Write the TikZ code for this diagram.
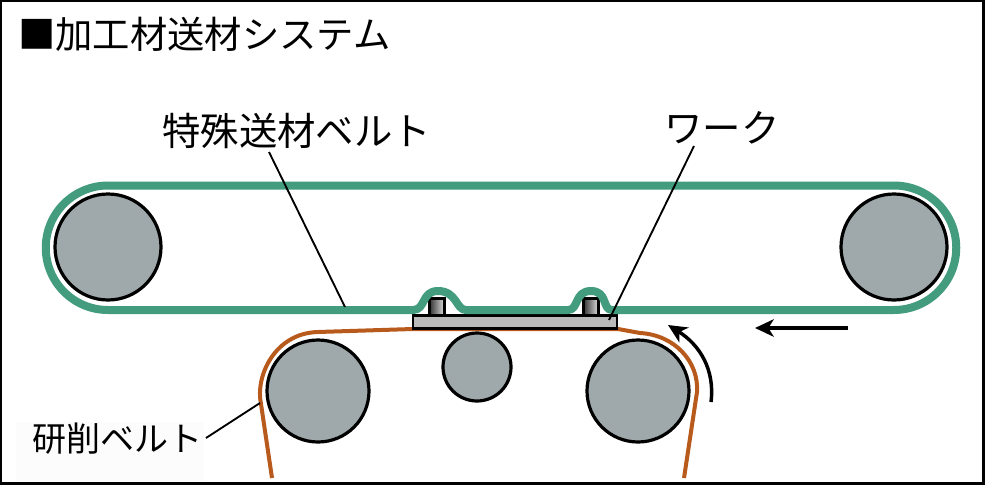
\documentclass[tikz,border=0pt]{standalone}
\usepackage{fontspec}
\setmainfont{Noto Sans CJK JP}
\usetikzlibrary{arrows.meta}
\definecolor{beltgreen}{HTML}{429C7D}
\definecolor{beltorange}{HTML}{B85A1C}
\definecolor{rollergray}{HTML}{9FA9AB}
\definecolor{plategray}{HTML}{BABABA}
\tikzset{
  x=0.75pt,y=-0.75pt,
  roller/.style={circle,draw=black,line width=2.4pt,fill=rollergray,inner sep=0pt,minimum size=#1*0.75pt},
  label/.style={inner sep=0pt,anchor=west,text=black,font=\fontsize{28.8}{28.8}\selectfont},
  leader/.style={draw=black,line width=1.4pt},
  motion/.style={draw=black,line width=2.6pt,-{Stealth[length=14pt,width=13pt,inset=4pt]}},
  peg/.style={draw=black,line width=2pt,left color=black!80,right color=black!12},
}
\begin{document}
\begin{tikzpicture}
\useasboundingbox (0,0) rectangle (985,485);
\fill[white] (0,0) rectangle (985,485);
% labels
\fill[black!1] (16,422) rectangle (204,481);
\node[label,font=\fontsize{28}{28}\selectfont] (title) at (18,34) {■加工材送材システム};
\node[label] (beltlabel) at (162,131) {特殊送材ベルト};
\node[label] (worklabel) at (664,128) {ワーク};
\node[label,font=\fontsize{25.5}{25.5}\selectfont] (grindlabel) at (32,439) {研削ベルト};
% rollers
\node[roller=106] (r1) at (108,247) {};
\node[roller=106] (r2) at (894,247) {};
\node[roller=102] (r3) at (318,391) {};
\node[roller=68] (r4) at (477,367) {};
\node[roller=102] (r5) at (638,391) {};
% orange belt
\draw[beltorange,line width=3pt,line join=round]
  (272,478) -- (261,404)
  .. controls (255,376) and (275,333) .. (318,332)
  -- (413,329) -- (618,329) -- (640,333)
  .. controls (675,335) and (699,362) .. (697,392)
  -- (684,478);
% plate and pegs
\node[peg,minimum width=11.5pt,minimum height=13pt,inner sep=0pt] (peg1) at (437,307) {};
\node[peg,minimum width=11.5pt,minimum height=13pt,inner sep=0pt] (peg2) at (591,307) {};
\node[draw=black,line width=2.2pt,fill=plategray,minimum width=153pt,minimum height=9.5pt,inner sep=0pt] (plate) at (515,322) {};
% green belt
\draw[beltgreen,line width=6pt,line join=round]
  (108,185.5) -- (894,185.5)
  arc[start angle=90,end angle=-90,radius=62.25*0.75pt]
  -- (612,310)
  .. controls (602,310) and (608,291) .. (591,291)
  .. controls (574,291) and (579,310) .. (568,310)
  -- (466,310)
  .. controls (456,310) and (457,291) .. (438,291)
  .. controls (421,291) and (426,310) .. (413,310)
  -- (108,310)
  arc[start angle=270,end angle=90,radius=62.25*0.75pt]
  -- cycle;
% leaders
\coordinate (beltend) at (345,307);
\coordinate (beltstart) at (269,152);
\coordinate (workend) at (609,320);
\coordinate (workstart) at (694,146);
\coordinate (grindstart) at (206,438);
\coordinate (grindend) at (260,403);
\draw[leader] (beltstart) -- (beltend);
\draw[leader] (workstart) -- (workend);
\draw[leader] (grindstart) -- (grindend);
% motion arrows
\coordinate (a1s) at (848,328);
\coordinate (a1e) at (755,328);
\coordinate (a2s) at (711,402);
\coordinate (a2e) at (668,325);
\draw[motion] (a1s) -- (a1e);
\draw[motion] (a2s) .. controls (715,370) and (700,345) .. (a2e);
% frame
\draw[black,line width=1.8pt] (1,1) rectangle (983.5,483.5);
\end{tikzpicture}
\end{document}
